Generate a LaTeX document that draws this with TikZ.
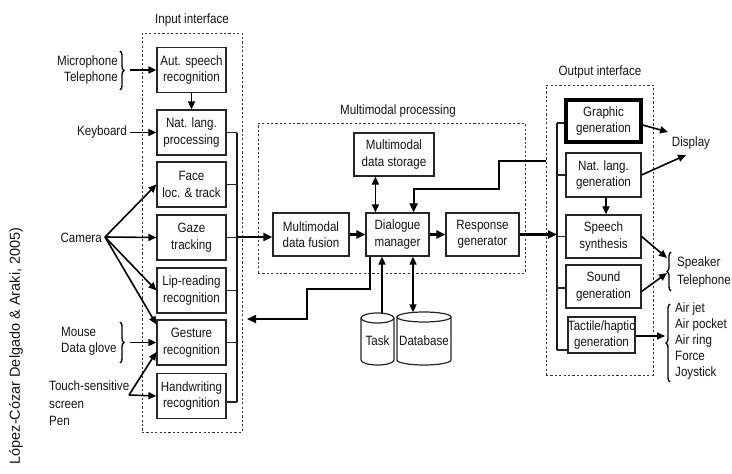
\documentclass[tikz,border=0pt]{standalone}
\usepackage{fontspec}
\setmainfont{Liberation Sans}[FakeStretch=0.86]
\newfontfamily\citefont{Liberation Sans}
\usetikzlibrary{arrows.meta,decorations.pathreplacing}

\begin{document}
\begin{tikzpicture}[x=1pt,y=-1pt,
  lbl/.style={font=\fontsize{13.5}{16.5}\selectfont, inner sep=0pt, text=black!92},
  box/.style={lbl, draw=black!85, line width=1.2pt, align=center,
              minimum width=69pt, minimum height=45pt},
  frame/.style={draw=black!80, line width=0.9pt, dash pattern=on 2.2pt off 2.2pt,
                inner sep=0pt},
  bus/.style={draw=black!90, line width=1.7pt},
  tick/.style={draw=black!85, line width=1.1pt},
  thk/.style={draw=black, line width=2.1pt, -{Triangle[length=9pt,width=8pt]}},
  thn/.style={draw=black, line width=1.6pt, -{Triangle[length=8pt,width=7pt]}},
  both/.style={draw=black, line width=1.6pt,
               {Triangle[length=8pt,width=7pt]}-{Triangle[length=8pt,width=7pt]}},
  brc/.style={draw=black, line width=1.4pt, decorate,
              decoration={brace, amplitude=4pt}},
  cyl/.style={draw=black!85, line width=1.2pt},
]
\useasboundingbox (0,0) rectangle (732,474);

% ---------- citation ----------
\node[rotate=90, inner sep=0pt, text=black!92, font=\citefont\fontsize{14.5}{18}\selectfont]
  (cite) at (16,346) {López-Cózar Delgado \& Araki, 2005)};

% ---------- input interface ----------
\node[lbl] (intitle) at (192,20) {Input interface};
\node[frame, minimum width=100pt, minimum height=399pt] (inframe) at (192,232.5) {};

\node[box] (asr)  at (191.5,70)    {Aut. speech\\recognition};
\node[box] (nlp)  at (191.5,132.5) {Nat. lang.\\processing};
\node[box] (face) at (191.5,184.5) {Face\\loc. \& track};
\node[box] (gaze) at (191.5,237.5) {Gaze\\tracking};
\node[box] (lip)  at (191.5,290.5) {Lip-reading\\recognition};
\node[box] (gest) at (191.5,342.5) {Gesture\\recognition};
\node[box] (hand) at (191.5,396)   {Handwriting\\recognition};

\draw[thn] (asr.south) -- (nlp.north);

% collecting bus of the recognisers
\coordinate (ibTop) at (237,132.5);
\coordinate (ibBot) at (237,402);
\coordinate (ibOut) at (237,237);
\coordinate (ibBack) at (247,319);
\draw[bus] (ibTop) -- (ibBot);
\foreach \b in {nlp,face,gaze,lip,gest}{
  \draw[tick] (\b.east) -- (\b.east -| ibTop);
}
\draw[tick] (ibBot) -- (ibBot -| hand.east);

% devices on the left
\node[lbl, align=right, anchor=east] (mic) at (118,70) {Microphone\\Telephone};
\draw[brc] (120,51) -- (120,90);
\coordinate (micOut) at (130,70);
\draw[thn] (micOut) -- (asr.west);

\node[lbl, anchor=east] (kbd) at (127,132.5) {Keyboard};
\coordinate (kbdOut) at (130,132.5);
\draw[thn] (kbdOut) -- (nlp.west);

\node[lbl, anchor=east] (cam) at (102,238) {Camera};
\coordinate (camOut) at (105,237);
\draw[thn] (camOut) -- (face.west);
\draw[thn] (camOut) -- (gaze.west);
\draw[thn] (camOut) -- (lip.west);
\draw[thn] (camOut) -- ([yshift=-5pt]gest.north west);

\node[lbl, align=left, anchor=west] (mouse) at (61,341.5) {Mouse\\Data glove};
\draw[brc] (120,322) -- (120,363);
\coordinate (mouseOut) at (130,342.5);
\draw[thn] (mouseOut) -- (gest.west);

\node[lbl, align=left, anchor=west, font=\fontsize{13.5}{17.5}\selectfont]
  (touch) at (49,403.5) {Touch-sensitive\\screen\\Pen};
\coordinate (touchOut) at (129,395);
\draw[thn] (touchOut) -- ([yshift=-9.5pt]gest.west);
\draw[thn] (touchOut) -- (hand.west);

% ---------- multimodal processing ----------
\node[lbl] (mmtitle) at (398,111) {Multimodal processing};
\node[frame, minimum width=267pt, minimum height=150pt] (mmframe) at (391.5,198) {};

\node[box, minimum width=80pt, minimum height=43pt] (store)  at (394,154.5)   {Multimodal\\data storage};
\node[box, minimum width=76pt, minimum height=43pt] (fusion) at (311,234.5)   {Multimodal\\data fusion};
\node[box, minimum width=63pt, minimum height=43pt] (dm)     at (397.5,234.5) {Dialogue\\manager};
\node[box, minimum width=73pt, minimum height=43pt] (resp)   at (482.5,234.5) {Response\\generator};

\draw[thk] (ibOut) -- (fusion.west |- ibOut);
\draw[thk] (fusion.east) -- (dm.west);
\draw[thk] (dm.east) -- (resp.west);
\draw[both] ([xshift=10pt]dm.north west |- store.south) -- ([xshift=10pt]dm.north west);

% dialogue manager back to the input side
\draw[thk] ([xshift=5pt]dm.south west) |- (307,289) |- (ibBack);

% feedback from the output interface
\coordinate (fbStart) at (546,161);
\draw[thk] (fbStart) -| (499,189) -| ([xshift=-16pt]dm.north east);

% ---------- task and database stores ----------
\draw[cyl] (361,318) -- (361,360) arc[start angle=180, end angle=360, x radius=16.5pt, y radius=5pt] -- (394,318);
\draw[cyl] (377.5,318) ellipse [x radius=16.5pt, y radius=5pt];
\draw[cyl] (397,317) -- (397,360) arc[start angle=180, end angle=360, x radius=27pt, y radius=5pt] -- (451,317);
\draw[cyl] (424,317) ellipse [x radius=27pt, y radius=5pt];
\node[lbl] (task) at (377.5,341) {Task};
\node[lbl] (db)   at (424,341)   {Database};

\coordinate (taskTop) at (382,313.3);
\coordinate (dbTop) at (413,312.4);
\draw[thn] (taskTop) -- (taskTop |- dm.south);
\draw[both] (dbTop) -- (dbTop |- dm.south);

% ---------- output interface ----------
\node[lbl] (outtitle) at (600,72) {Output interface};
\node[frame, minimum width=107pt, minimum height=290pt] (outframe) at (599.5,230) {};

\node[box, minimum width=75pt, minimum height=42pt, line width=3.2pt, draw=black] (gfx) at (603.5,121) {Graphic\\generation};
\node[box, minimum width=75pt, minimum height=44pt] (nlg) at (603.5,175)   {Nat. lang.\\generation};
\node[box, minimum width=75pt, minimum height=43pt] (tts) at (603.5,236.5) {Speech\\synthesis};
\node[box, minimum width=75pt, minimum height=43pt] (snd) at (603.5,286.5) {Sound\\generation};
\node[box, minimum width=67pt, minimum height=36pt] (tac) at (601.5,335)   {Tactile/haptic\\generation};

% distribution bus of the generators
\coordinate (obTop) at (557,123);
\coordinate (obBot) at (557,350);
\draw[bus] (obTop) -- (obBot);
\draw[tick] (obTop) -- (obTop -| gfx.west);
\draw[tick] (nlg.west) -- (nlg.west -| obTop);
\draw[tick] (tts.west) -- (tts.west -| obTop);
\draw[tick] ([yshift=-1.5pt]snd.west) -- ([yshift=-1.5pt]snd.west -| obTop);
\draw[tick] (obBot) -- (obBot -| tac.west);

\draw[thk] (resp.east) -- (resp.east -| obTop);
\draw[thn] ([xshift=2.5pt]nlg.south) -- ([xshift=2.5pt]tts.north);

% output devices
\node[lbl] (disp) at (691,143) {Display};
\coordinate (dispA) at (668,132);
\coordinate (dispB) at (686,155);
\draw[thn] ([yshift=-4pt]gfx.east) -- (dispA);
\draw[thn] (nlg.east) -- (dispB);

\node[lbl, align=left, anchor=west, font=\fontsize{13.5}{18}\selectfont] (spk) at (677,272) {Speaker\\Telephone};
\draw[brc] (671,291) -- (671,252);
\coordinate (spkA) at (667,258);
\coordinate (spkB) at (667,273);
\draw[thn] (tts.east) -- (spkA);
\draw[thn] ([yshift=-5pt]snd.east) -- (spkB);

\node[lbl, align=left, anchor=west, font=\fontsize{13.5}{16}\selectfont] (hap) at (675,341)
  {Air jet\\Air pocket\\Air ring\\Force\\Joystick};
\draw[brc] (670,382) -- (670,304);
\coordinate (hapIn) at (665,336);
\draw[thn] (tac.east |- hapIn) -- (hapIn);
\end{tikzpicture}
\end{document}
